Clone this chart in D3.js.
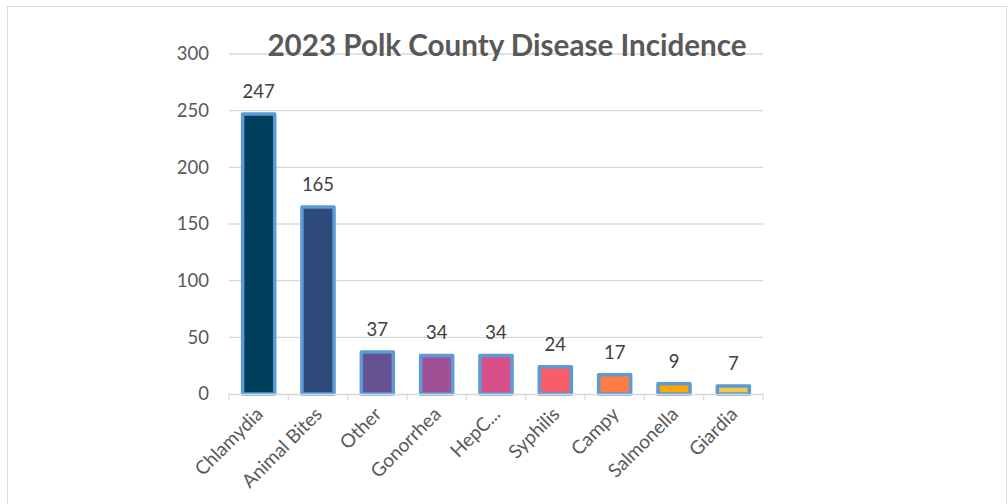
<!DOCTYPE html>
<html>
<head>
<meta charset="utf-8">
<script src="https://cdn.jsdelivr.net/npm/d3@7"></script>
<style>
  html, body { margin: 0; padding: 0; background: #ffffff; }
  svg { display: block; }
</style>
</head>
<body>
<svg id="chart" width="1008" height="504"></svg>
<script>
// 2023 case counts by disease, Polk County
const categories = ["Chlamydia", "Animal Bites", "Other", "Gonorrhea", "HepC...", "Syphilis", "Campy", "Salmonella", "Giardia"];
const cases = [247, 165, 37, 34, 34, 24, 17, 9, 7];
const barColors = ["#003f5c", "#2f4b7c", "#665191", "#a05195", "#d45087", "#f95d6a", "#ff7c43", "#ffa600", "#f7c842"];
const yTicks = [0, 50, 100, 150, 200, 250, 300];
const title = "2023 Polk County Disease Incidence";

const svg = d3.select("#chart");
const font = "Lato, 'Open Sans', sans-serif";

// chart frame
svg.append("rect")
  .attr("x", 7.5).attr("y", 6.5)
  .attr("width", 999).attr("height", 530)
  .attr("fill", "#ffffff")
  .attr("stroke", "#d9d9d9").attr("stroke-width", 1);

const plot = { left: 229, right: 763, top: 54, bottom: 394 };

const x = d3.scaleBand()
  .domain(categories)
  .range([plot.left, plot.right])
  .paddingInner(0.46)
  .paddingOuter(0.23);

const y = d3.scaleLinear()
  .domain([0, 300])
  .range([plot.bottom, plot.top]);

// horizontal gridlines
svg.append("g")
  .selectAll("line")
  .data(yTicks.filter(t => t > 0))
  .join("line")
  .attr("x1", plot.left).attr("x2", plot.right)
  .attr("y1", d => y(d)).attr("y2", d => y(d))
  .attr("stroke", "#d9d9d9").attr("stroke-width", 1.3);

// value axis labels
const yAxis = d3.axisLeft(y).tickValues(yTicks).tickSize(0).tickPadding(20);
const yg = svg.append("g").attr("transform", `translate(${plot.left},0)`).call(yAxis);
yg.select(".domain").remove();
yg.selectAll("text")
  .attr("font-family", font).attr("font-size", 18.5)
  .attr("fill", "#595959");

// title
svg.append("text")
  .attr("x", 507).attr("y", 56)
  .attr("text-anchor", "middle")
  .attr("font-family", font).attr("font-weight", "bold")
  .attr("font-size", 29.6)
  .attr("fill", "#595959")
  .text(title);

// bars
svg.append("g")
  .selectAll("rect")
  .data(categories)
  .join("rect")
  .attr("x", d => x(d))
  .attr("y", (d, i) => y(cases[i]))
  .attr("width", x.bandwidth())
  .attr("height", (d, i) => y(0) - y(cases[i]))
  .attr("fill", (d, i) => barColors[i])
  .attr("stroke", "#5b9bd5").attr("stroke-width", 3.5)
  .attr("stroke-linejoin", "round");

// category axis
const bandStep = x.step();
const xAxisG = svg.append("g");
xAxisG.append("line")
  .attr("x1", plot.left).attr("x2", plot.right)
  .attr("y1", plot.bottom + 0.5).attr("y2", plot.bottom + 0.5)
  .attr("stroke", "#d9d9d9").attr("stroke-width", 1.3);
const boundaries = d3.range(categories.length + 1).map(i => plot.left + i * bandStep);
xAxisG.selectAll("line.tick")
  .data(boundaries)
  .join("line")
  .attr("class", "tick")
  .attr("x1", d => d).attr("x2", d => d)
  .attr("y1", plot.bottom).attr("y2", plot.bottom + 6)
  .attr("stroke", "#d9d9d9").attr("stroke-width", 1.3);

// category labels, rotated
svg.append("g")
  .selectAll("text")
  .data(categories)
  .join("text")
  .attr("transform", d => `translate(${x(d) + x.bandwidth() / 2 - 4},${plot.bottom + 12}) rotate(-45)`)
  .attr("text-anchor", "end")
  .attr("dy", "0.7em")
  .attr("font-family", font).attr("font-size", 19)
  .attr("fill", "#595959")
  .text(d => d);

// data labels
svg.append("g")
  .selectAll("text")
  .data(categories)
  .join("text")
  .attr("x", d => x(d) + x.bandwidth() / 2)
  .attr("y", (d, i) => y(cases[i]) - 16)
  .attr("text-anchor", "middle")
  .attr("font-family", font).attr("font-size", 18.5)
  .attr("fill", "#404040")
  .text((d, i) => cases[i]);
</script>
</body>
</html>
